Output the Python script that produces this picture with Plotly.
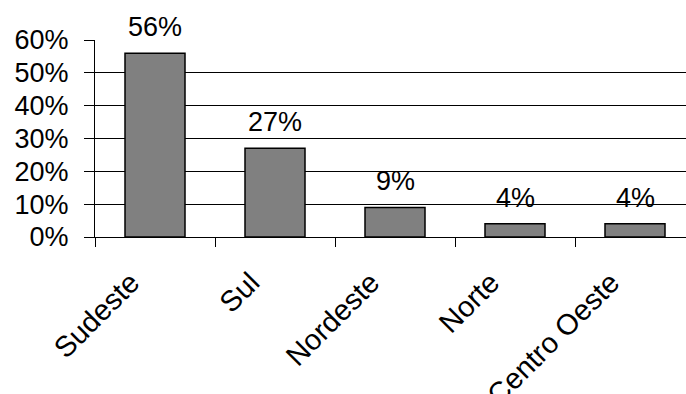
import plotly.graph_objects as go

# Regional share (%)
regioes = ["Sudeste", "Sul", "Nordeste", "Norte", "Centro Oeste"]
percentuais = [56, 27, 9, 4, 4]
y_ticks = [0, 10, 20, 30, 40, 50, 60]

FONT = "Liberation Sans, Arial, sans-serif"

fig = go.Figure()
fig.add_trace(go.Bar(
    x=regioes,
    y=percentuais,
    width=0.5,
    marker=dict(color="#808080", line=dict(color="#000000", width=1.5)),
    hoverinfo="skip",
))

# value labels above each bar
for r, v in zip(regioes, percentuais):
    fig.add_annotation(
        x=r, y=v, text=f"{v}%", showarrow=False,
        yanchor="bottom", yshift=9,
        font=dict(family=FONT, size=27, color="#000000"),
    )

fig.update_layout(
    width=686, height=394,
    margin=dict(l=95, r=0, t=40, b=157),
    paper_bgcolor="white", plot_bgcolor="white",
    showlegend=False,
    font=dict(family=FONT, color="#000000"),
)
fig.update_xaxes(
    automargin=False,
    range=[-0.5, 4.425],
    tickson="boundaries",
    ticks="outside", ticklen=9, tickwidth=1, tickcolor="#000000",
    tickangle=-45,
    ticklabelstandoff=16,
    ticklabelshift=-24,
    tickfont=dict(family=FONT, size=29, color="#000000"),
    showline=True, linecolor="#000000", linewidth=1,
    showgrid=False,
)
fig.update_yaxes(
    automargin=False,
    range=[0, 60],
    tickvals=y_ticks,
    ticktext=[f"{t}%" for t in y_ticks],
    ticks="outside", ticklen=10, tickwidth=1, tickcolor="#000000",
    ticklabelstandoff=10,
    tickfont=dict(family=FONT, size=27, color="#000000"),
    showline=True, linecolor="#000000", linewidth=1,
    showgrid=True, gridcolor="#000000", gridwidth=1,
    zeroline=False,
)

fig.write_html("out.html")
